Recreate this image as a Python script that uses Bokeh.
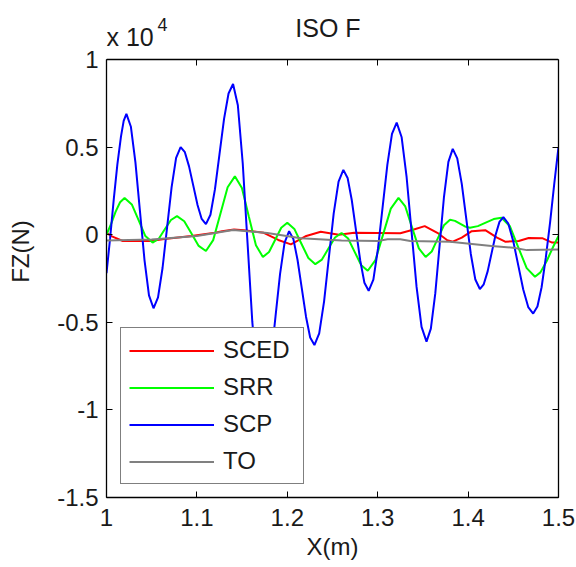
from bokeh.plotting import figure
from bokeh.models import (Range1d, FixedTicker, NumeralTickFormatter, LinearAxis,
                          Legend, LegendItem, Label)
from bokeh.embed import file_html
from bokeh.resources import INLINE

# ---------------- data (FZ in units of 1e4 N) ----------------
x_tick_values = [1.0, 1.1, 1.2, 1.3, 1.4, 1.5]
y_tick_values = [-1.5, -1.0, -0.5, 0.0, 0.5, 1.0]

scp_x = [1.000, 1.004, 1.008, 1.012, 1.016, 1.019, 1.022,
         1.027, 1.032, 1.037, 1.042, 1.047, 1.052,
         1.057, 1.062, 1.067, 1.072, 1.077, 1.082,
         1.0867, 1.0913, 1.096, 1.1007, 1.1053, 1.110,
         1.115, 1.120, 1.125, 1.130, 1.135, 1.140,
         1.1453, 1.1507, 1.156, 1.1613, 1.1667, 1.172,
         1.177, 1.182, 1.187, 1.192, 1.197, 1.202,
         1.2067, 1.2113, 1.216, 1.2207, 1.2253, 1.230,
         1.2353, 1.2407, 1.246, 1.2513, 1.2567, 1.262,
         1.2667, 1.2713, 1.276, 1.2807, 1.2853, 1.290,
         1.2952, 1.3003, 1.3055, 1.3107, 1.3158, 1.321,
         1.3265, 1.332, 1.3375, 1.343, 1.3485, 1.354,
         1.3588, 1.3637, 1.3685, 1.3733, 1.3782, 1.383,
         1.388, 1.393, 1.398, 1.403, 1.408, 1.413,
         1.4173, 1.4217, 1.426, 1.4303, 1.4347, 1.439,
         1.4445, 1.450, 1.4555, 1.461, 1.4665, 1.472,
         1.4767, 1.4813, 1.486, 1.4907, 1.4953, 1.500]
scp_y = [-0.22, -0.02, 0.20, 0.40, 0.56, 0.65, 0.69,
         0.616, 0.413, 0.135, -0.143, -0.346, -0.42,
         -0.358, -0.19, 0.04, 0.27, 0.438, 0.50,
         0.471, 0.39, 0.28, 0.17, 0.09, 0.06,
         0.114, 0.26, 0.46, 0.66, 0.806, 0.86,
         0.739, 0.408, -0.045, -0.498, -0.829, -0.95,
         -0.885, -0.708, -0.465, -0.223, -0.045, 0.02,
         -0.024, -0.143, -0.305, -0.468, -0.587, -0.63,
         -0.563, -0.38, -0.13, 0.12, 0.303, 0.37,
         0.324, 0.198, 0.025, -0.148, -0.274, -0.32,
         -0.256, -0.08, 0.16, 0.40, 0.576, 0.64,
         0.556, 0.328, 0.015, -0.298, -0.526, -0.61,
         -0.536, -0.335, -0.06, 0.215, 0.416, 0.49,
         0.436, 0.29, 0.09, -0.11, -0.256, -0.31,
         -0.283, -0.208, -0.105, -0.003, 0.073, 0.10,
         0.063, -0.038, -0.175, -0.313, -0.413, -0.45,
         -0.41, -0.30, -0.13, 0.07, 0.29, 0.50]

srr_x = [1.000, 1.005, 1.010, 1.015, 1.020,
         1.028, 1.0355, 1.043, 1.051,
         1.0578, 1.0645, 1.0713, 1.078,
         1.086, 1.094, 1.102, 1.110,
         1.118, 1.126, 1.134, 1.142,
         1.1498, 1.1575, 1.1653, 1.173,
         1.1798, 1.1865, 1.1933, 1.200,
         1.2078, 1.2155, 1.2233, 1.231,
         1.2383, 1.2455, 1.2528, 1.260,
         1.2673, 1.2745, 1.2818, 1.289,
         1.2975, 1.306, 1.3145, 1.323,
         1.3305, 1.338, 1.3455, 1.353,
         1.3598, 1.3665, 1.3733, 1.380,
         1.3855, 1.391, 1.3965, 1.402,
         1.4108, 1.4195, 1.4283, 1.437,
         1.4463, 1.4555, 1.4648, 1.474,
         1.480, 1.487, 1.494, 1.500]
srr_y = [0.00, 0.06, 0.13, 0.185, 0.21,
         0.173, 0.083, -0.008, -0.045,
         -0.023, 0.031, 0.084, 0.106,
         0.077, 0.007, -0.064, -0.093,
         -0.031, 0.12, 0.271, 0.333,
         0.266, 0.103, -0.06, -0.127,
         -0.099, -0.030, 0.040, 0.068,
         0.033, -0.05, -0.133, -0.168,
         -0.142, -0.079, -0.016, 0.01,
         -0.022, -0.098, -0.174, -0.206,
         -0.145, 0.002, 0.149, 0.21,
         0.161, 0.042, -0.078, -0.127,
         -0.096, -0.021, 0.054, 0.085,
         0.079, 0.063, 0.047, 0.04,
         0.049, 0.069, 0.089, 0.097,
         0.048, -0.072, -0.191, -0.24,
         -0.215, -0.15, -0.07, -0.007]

sced_x = [1.000, 1.006, 1.018, 1.049, 1.062, 1.094, 1.120, 1.128, 1.141,
          1.152, 1.174, 1.190, 1.204, 1.221, 1.237, 1.257, 1.274, 1.325,
          1.340, 1.352, 1.366, 1.377, 1.383, 1.393, 1.404, 1.419, 1.432,
          1.441, 1.456, 1.467, 1.482, 1.493, 1.500]
sced_y = [0.01, -0.01, -0.036, -0.036, -0.026, -0.007, 0.011, 0.02, 0.03,
          0.025, 0.011, -0.03, -0.055, -0.007, 0.017, 0.0, 0.011, 0.008,
          0.03, 0.049, 0.011, -0.032, -0.04, -0.017, 0.02, 0.026, -0.017,
          -0.04, -0.036, -0.019, -0.02, -0.045, -0.045]

to_x = [1.000, 1.050, 1.100, 1.140, 1.178, 1.215, 1.260, 1.300, 1.311,
        1.325, 1.336, 1.380, 1.426, 1.450, 1.465, 1.500]
to_y = [-0.033, -0.028, -0.007, 0.027, 0.01, -0.02, -0.033, -0.036, -0.026,
        -0.026, -0.036, -0.04, -0.064, -0.074, -0.088, -0.085]

series_names = ["SCED", "SRR", "SCP", "TO"]
series_colors = ["#ff0000", "#00ff00", "#0000ff", "#808080"]

# ---------------- figure ----------------
FONT = "Liberation Sans"
TXT = "#1a1a1a"
Y_MIN, Y_MAX = -1.5, 1.0
# the frame is extended upward (blank band) so the title texts sit inside it
Y_TOP = Y_MAX + 54 / 175.2

p = figure(width=576, height=567, output_backend="svg", toolbar_location=None,
           title_location=None,
           x_range=Range1d(1.0, 1.5), y_range=Range1d(Y_MIN, Y_TOP),
           min_border_left=106, min_border_right=18,
           min_border_top=5, min_border_bottom=70)
p.background_fill_color = "white"
p.border_fill_color = "white"
p.grid.visible = False
p.outline_line_color = None

for ax in (p.xaxis[0], p.yaxis[0]):
    ax.axis_line_color = "black"
    ax.axis_line_width = 1.3
    ax.major_tick_in = 6
    ax.major_tick_out = 0
    ax.minor_tick_line_color = None
    ax.major_tick_line_color = "black"
    ax.major_label_text_font = FONT
    ax.major_label_text_font_size = "24px"
    ax.major_label_text_color = TXT
    ax.axis_label_text_font = FONT
    ax.axis_label_text_font_size = "24px"
    ax.axis_label_text_font_style = "normal"
    ax.axis_label_text_color = TXT

p.xaxis.ticker = FixedTicker(ticks=x_tick_values)
p.yaxis.ticker = FixedTicker(ticks=y_tick_values)
p.yaxis.bounds = (Y_MIN, Y_MAX)
p.xaxis.formatter = NumeralTickFormatter(format="0.[0]")
p.yaxis.formatter = NumeralTickFormatter(format="0.[0]")
p.xaxis.major_label_standoff = 11
p.yaxis.major_label_standoff = 8
p.xaxis.axis_label = "X(m)"
p.yaxis.axis_label = "FZ(N)"
p.xaxis.axis_label_standoff = 4
p.yaxis.axis_label_standoff = 20

# box: top edge (fixed at y = 1) and right edge, ticks pointing inward, no labels
top_ax = LinearAxis(ticker=FixedTicker(ticks=x_tick_values), fixed_location=Y_MAX,
                    axis_line_color="black", axis_line_width=1.3,
                    major_tick_in=6, major_tick_out=0, minor_tick_line_color=None,
                    major_label_text_font_size="0px", major_label_text_color=None,
                    major_label_standoff=0)
right_ax = LinearAxis(ticker=FixedTicker(ticks=y_tick_values), bounds=(Y_MIN, Y_MAX),
                      axis_line_color="black", axis_line_width=1.3,
                      major_tick_in=6, major_tick_out=0, minor_tick_line_color=None,
                      major_label_text_font_size="0px", major_label_text_color=None,
                      major_label_standoff=0)
p.add_layout(top_ax, "above")
p.add_layout(right_ax, "right")

renderers = []
for xs, ys, color in [(sced_x, sced_y, series_colors[0]),
                      (srr_x, srr_y, series_colors[1]),
                      (scp_x, scp_y, series_colors[2]),
                      (to_x, to_y, series_colors[3])]:
    renderers.append(p.line(xs, ys, line_color=color, line_width=2))

legend = Legend(items=[LegendItem(label=n, renderers=[r]) for n, r in zip(series_names, renderers)],
                location=(14, 13), orientation="vertical",
                label_text_font=FONT, label_text_font_size="24px", label_text_color=TXT,
                glyph_width=85, glyph_height=27, label_height=27, label_width=72,
                label_standoff=9, spacing=9, padding=8, margin=0,
                border_line_color="black", border_line_width=1.5,
                background_fill_color="white", background_fill_alpha=1.0)
p.add_layout(legend, "center")

# title and exponent, placed in the blank band above y = 1
p.add_layout(Label(x=1.245, y=1.18, text="ISO F",
                   text_align="center", text_baseline="middle",
                   text_font=FONT, text_font_size="25px", text_color=TXT))
p.add_layout(Label(x=1.0, y=1.131, text="x 10",
                   text_align="left", text_baseline="middle",
                   text_font=FONT, text_font_size="25px", text_color=TXT))
p.add_layout(Label(x=1.0564, y=1.197, text="4",
                   text_align="left", text_baseline="middle",
                   text_font=FONT, text_font_size="18px", text_color=TXT))

open("out.html", "w").write(file_html(p, INLINE))
